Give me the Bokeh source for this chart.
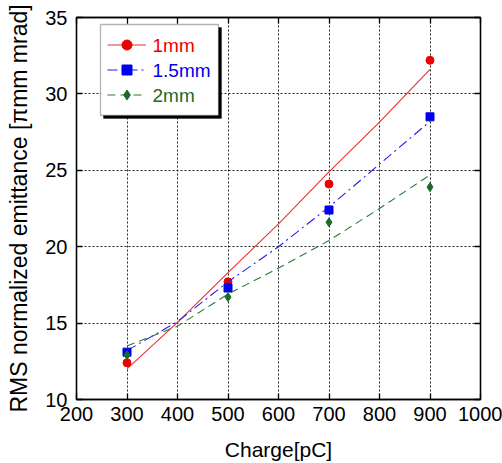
from bokeh.plotting import figure
from bokeh.models import (Legend, LegendItem, LinearAxis, FixedTicker, Range1d,
                          Label, BoxAnnotation)
from bokeh.embed import file_html
from bokeh.resources import INLINE

# ---- data ----
charge = [300, 500, 700, 900]
emit_1mm = [12.4, 17.7, 24.1, 32.2]
emit_15mm = [13.1, 17.3, 22.4, 28.5]
emit_2mm = [12.9, 16.7, 21.6, 23.9]

fit_charge = [300, 400, 500, 600, 700, 800, 900]
fit_1mm = [12.0, 15.05, 18.3, 21.5, 24.9, 28.15, 31.6]
fit_15mm = [13.2, 15.1, 17.7, 20.0, 22.6, 25.4, 28.2]
fit_2mm = [13.5, 14.8, 16.9, 18.6, 20.4, 22.5, 24.7]

labels = ["1mm", "1.5mm", "2mm"]
x_ticks = [200, 300, 400, 500, 600, 700, 800, 900, 1000]
y_ticks = [10, 15, 20, 25, 30, 35]

# ---- layout ----
W, H = 502, 463
BL, BR, BT, BB = 76, 22, 17, 64
FONT = "Liberation Sans"

p = figure(width=W, height=H, output_backend="svg", toolbar_location=None,
           x_range=Range1d(200, 1000), y_range=Range1d(10, 35),
           min_border_left=BL, min_border_right=BR, min_border_top=BT,
           min_border_bottom=BB, background_fill_color="white",
           border_fill_color="white")
p.outline_line_color = "black"
p.outline_line_width = 1.3

for ax in (p.xaxis[0], p.yaxis[0]):
    ax.major_label_text_font = FONT
    ax.major_label_text_font_size = "20px"
    ax.major_label_text_color = "black"
    ax.axis_label_text_font = FONT
    ax.axis_label_text_font_style = "normal"
    ax.axis_label_text_color = "black"
    ax.major_tick_in = 6
    ax.major_tick_out = 0
    ax.minor_tick_line_color = None
    ax.major_tick_line_color = "black"
    ax.major_tick_line_width = 1.3
    ax.axis_line_color = "black"
    ax.axis_line_width = 1.3

p.xaxis[0].ticker = FixedTicker(ticks=x_ticks)
p.yaxis[0].ticker = FixedTicker(ticks=y_ticks)
p.xaxis[0].axis_label = "Charge[pC]"
p.yaxis[0].axis_label = "RMS normalized emittance [πmm mrad]"
p.xaxis[0].axis_label_text_font_size = "21px"
p.yaxis[0].axis_label_text_font_size = "23px"
p.xaxis[0].major_label_standoff = 7
p.xaxis[0].axis_label_standoff = 14
p.yaxis[0].major_label_standoff = 9
p.yaxis[0].axis_label_standoff = 10

for side, ticks in (("right", y_ticks), ("above", x_ticks)):
    ax = LinearAxis(ticker=FixedTicker(ticks=ticks), major_label_text_font_size="1px",
                    major_label_text_alpha=0, major_tick_in=6, major_tick_out=0,
                    minor_tick_line_color=None, major_tick_line_color="black",
                    major_tick_line_width=1.3, axis_line_color="black",
                    axis_line_width=1.3, major_label_standoff=0)
    p.add_layout(ax, side)

p.xgrid.ticker = FixedTicker(ticks=x_ticks)
p.ygrid.ticker = FixedTicker(ticks=y_ticks)
for g in (p.xgrid[0], p.ygrid[0]):
    g.grid_line_color = "#222222"
    g.grid_line_dash = "2 2"
    g.grid_line_width = 1

# ---- glyphs ----
l1 = p.line(fit_charge, fit_1mm, line_color="#ee3030", line_width=1.1)
s1 = p.scatter(charge, emit_1mm, marker="circle", size=8, fill_color="#ee0000",
               line_color="#ee0000")
l2 = p.line(fit_charge, fit_15mm, line_color="#2020ee", line_width=1.1,
            line_dash="10 4 2 4")
s2 = p.scatter(charge, emit_15mm, marker="square", size=8, fill_color="#0000ee",
               line_color="#0000ee")
l3 = p.line(fit_charge, fit_2mm, line_color="#2a7a3a", line_width=1.1,
            line_dash="8 5")
s3 = p.scatter(charge, emit_2mm, marker="diamond", size=9, fill_color="#1a6a2a",
               line_color="#1a6a2a")

pairs = [(l1, s1), (l2, s2), (l3, s3)]
colors = ["#ee0000", "#0000ee", "#1a6a2a"]

# ---- legend ----
frame_h = H - BT - BB
PAD, IH, GW, STAND = 8, 25, 39, 5
LH = 2 * PAD + 3 * IH
lx = 24
ly = frame_h - 7 - LH
LWID = 118

box_kw = dict(left_units="screen", right_units="screen",
              bottom_units="screen", top_units="screen", fill_alpha=1)
p.add_layout(BoxAnnotation(left=lx + 3, right=lx + 3 + LWID, bottom=ly - 3,
                           top=ly - 3 + LH, fill_color="black", line_color="black",
                           **box_kw))
p.add_layout(BoxAnnotation(left=lx, right=lx + LWID, bottom=ly, top=ly + LH,
                           fill_color="white", line_color="black", line_width=1.3,
                           **box_kw))

main = Legend(items=[LegendItem(label=lab, renderers=list(rs))
                     for lab, rs in zip(labels, pairs)],
              location=(lx + 7, ly + 8), padding=PAD, margin=0, spacing=0,
              glyph_height=IH, label_height=IH, glyph_width=GW,
              label_standoff=STAND, label_text_font=FONT,
              label_text_font_size="19px", label_text_alpha=0,
              background_fill_alpha=0, border_line_color=None)
p.add_layout(main, "center")

top = ly + LH
for i, (lab, c) in enumerate(zip(labels, colors)):
    p.add_layout(Label(x=lx + PAD + GW + STAND, y=top - PAD - IH / 2 - IH * i,
                       x_units="screen", y_units="screen", text=lab,
                       text_color=c, text_font=FONT, text_font_size="19px",
                       text_baseline="middle", text_align="left",
                       level="overlay"))

open("out.html", "w").write(file_html(p, INLINE))
